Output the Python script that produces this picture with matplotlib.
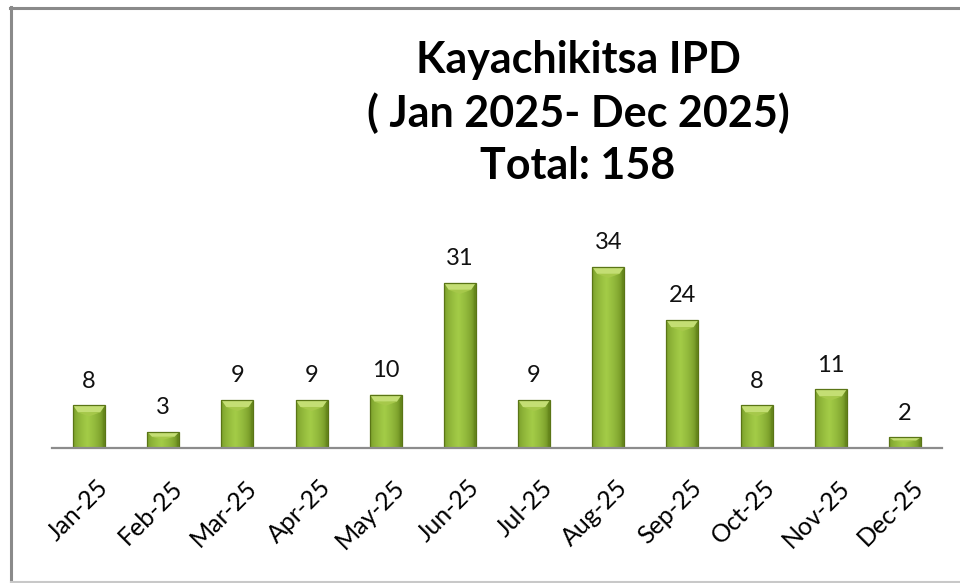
import matplotlib
matplotlib.use("Agg")
import matplotlib.pyplot as plt
import numpy as np
from matplotlib.patches import Polygon
from matplotlib.lines import Line2D
import matplotlib.transforms as mtrans

months = ["Jan-25", "Feb-25", "Mar-25", "Apr-25", "May-25", "Jun-25",
          "Jul-25", "Aug-25", "Sep-25", "Oct-25", "Nov-25", "Dec-25"]
counts = [8, 3, 9, 9, 10, 31, 9, 34, 24, 8, 11, 2]
title_lines = ["Kayachikitsa IPD", "( Jan 2025- Dec 2025)", "Total: 158"]

W, H = 960, 583
fig = plt.figure(figsize=(W / 100, H / 100), dpi=100)
fig.patch.set_facecolor("white")

def fx(px):
    return px / W

def fy(py):
    return 1 - py / H

FONT = "Lato"

ax = fig.add_axes([fx(52), fy(448), fx(942) - fx(52), fy(235) - fy(448)])
ax.set_xlim(-0.5, len(months) - 0.5)
ax.set_ylim(0, 40)
for s in ax.spines.values():
    s.set_visible(False)
ax.set_yticks([])
ax.axhline(0, color="#8c8c8c", lw=1.6, zorder=5, clip_on=False)

bw = 0.43
x = np.arange(len(months))
bars = ax.bar(x, counts, width=bw, color="none", edgecolor="none", zorder=3)

grad = np.linspace(0, 1, 64)
prof = 1 - np.abs(grad - 0.45) * 2
prof = np.clip(prof, 0, 1) ** 0.5
dark = np.array([0.40, 0.53, 0.11])
light = np.array([0.64, 0.80, 0.28])
img = dark[None, :] + (light - dark)[None, :] * prof[:, None]
img = img[None, :, :]

for b, v in zip(bars, counts):
    x0 = b.get_x()
    w = b.get_width()
    im = ax.imshow(img, extent=[x0, x0 + w, 0, v], aspect="auto", zorder=3,
                   interpolation="bilinear")
    im.set_clip_path(b)
    bev = min(1.3, v * 0.3)
    top = Polygon([[x0, v], [x0 + w, v], [x0 + w * 0.85, v - bev], [x0 + w * 0.15, v - bev]],
                  closed=True, facecolor="#c4de74", edgecolor="none", zorder=4)
    ax.add_patch(top)
    tri = Polygon([[x0 + w * 0.15, v - bev], [x0 + w * 0.85, v - bev], [x0 + w * 0.5, v - bev * 1.6]],
                  closed=True, facecolor="#a6c84a", edgecolor="none", zorder=4)
    ax.add_patch(tri)
    ax.add_patch(plt.Rectangle((x0, 0), w, v, facecolor="none",
                               edgecolor="#5a7516", lw=0.9, zorder=4))
    ax.text(x0 + w / 2, v + 2.6, str(v), ha="center", va="bottom",
            fontsize=17, family=FONT, color="#111111")

ax.set_xticks(x)
ax.set_xticklabels(months, rotation=45, ha="right", rotation_mode="anchor",
                   fontsize=18, family=FONT)
ax.tick_params(axis="x", length=0, pad=20)
offset = mtrans.ScaledTranslation(7 / 100, 0, fig.dpi_scale_trans)
for lbl in ax.get_xticklabels():
    lbl.set_transform(lbl.get_transform() + offset)

for i, t in enumerate(title_lines):
    fig.text(fx(578), fy(60 + i * 53), t, ha="center", va="center",
             fontsize=31, fontweight="bold", family=FONT, color="black")

fig.add_artist(Line2D([fx(10), 1], [fy(8), fy(8)], color="#8a8a8a", lw=2.2))
fig.add_artist(Line2D([fx(11), fx(11)], [fy(7), 0], color="#8a8a8a", lw=2.2))
fig.add_artist(Line2D([fx(11), 1], [fy(582), fy(582)], color="#c8c8c8", lw=1.5))

fig.savefig("out.png", dpi=100, facecolor="white")
